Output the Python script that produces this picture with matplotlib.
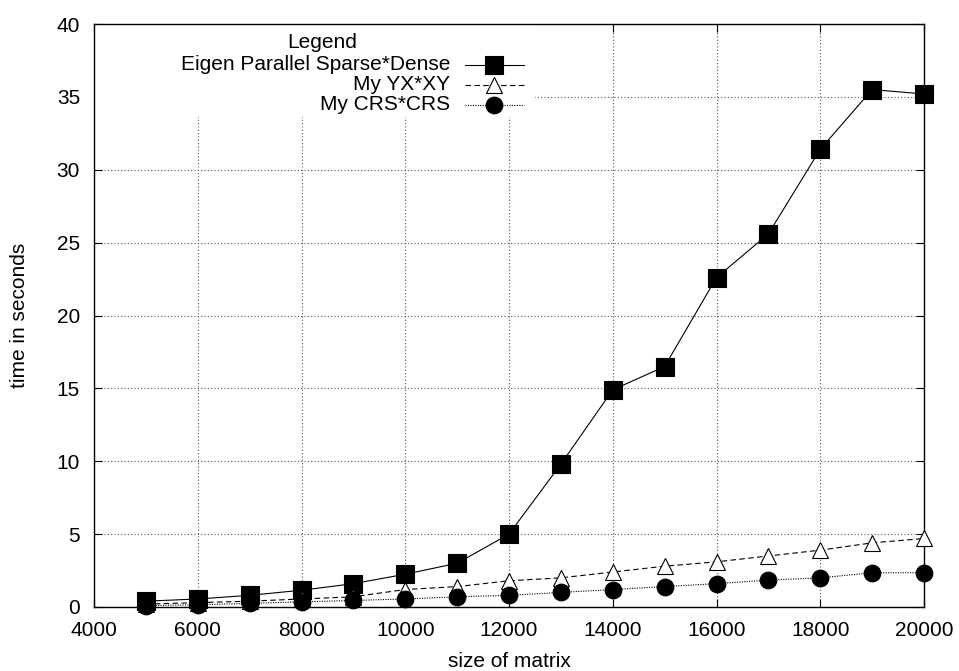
import matplotlib
matplotlib.use("Agg")
import matplotlib.pyplot as plt
from matplotlib.lines import Line2D
from matplotlib.patches import Rectangle

plt.rcParams['font.family'] = ['Liberation Sans', 'DejaVu Sans']

sizes = [5000, 6000, 7000, 8000, 9000, 10000, 11000, 12000, 13000, 14000,
         15000, 16000, 17000, 18000, 19000, 20000]
eigen = [0.4, 0.55, 0.8, 1.15, 1.6, 2.25, 3.0, 5.0, 9.8, 14.9,
         16.5, 22.6, 25.6, 31.4, 35.5, 35.2]
yxxy = [0.2, 0.3, 0.4, 0.55, 0.7, 1.2, 1.4, 1.8, 2.0, 2.4,
        2.8, 3.1, 3.5, 3.9, 4.4, 4.7]
crs = [0.1, 0.15, 0.25, 0.35, 0.45, 0.55, 0.7, 0.8, 1.0, 1.2,
       1.4, 1.6, 1.85, 2.0, 2.35, 2.35]

labels = ["Eigen Parallel Sparse*Dense", "My YX*XY", "My CRS*CRS"]
x_ticks = list(range(4000, 20001, 2000))
y_ticks = list(range(0, 41, 5))

FS = 15
L, R, T, B = 94, 924, 24, 607

fig = plt.figure(figsize=(9.59, 6.71), dpi=100)
ax = fig.add_axes([L/959, 1-B/671, (R-L)/959, (B-T)/671])

styles = [
    dict(linestyle='-', marker='s', markersize=12.5, markerfacecolor='black', markeredgecolor='black', markeredgewidth=0.8),
    dict(linestyle=(0, (5, 3)), marker='^', markersize=12, markerfacecolor='white', markeredgecolor='black', markeredgewidth=0.8),
    dict(linestyle=(0, (1, 1.2)), marker='o', markersize=12, markerfacecolor='black', markeredgecolor='black', markeredgewidth=0.8),
]
for ys, st in zip([eigen, yxxy, crs], styles):
    ax.plot(sizes, ys, color='black', linewidth=0.8, clip_on=False, zorder=3, **st)

ax.set_xlim(4000, 20000)
ax.set_ylim(0, 40)
ax.set_xticks(x_ticks)
ax.set_yticks(y_ticks)
ax.tick_params(direction='in', top=True, right=True, length=6, width=0.8, labelsize=FS)
ax.tick_params(axis='x', pad=10)
ax.tick_params(axis='y', pad=10)
ax.grid(True, color='#555555', linestyle=(0, (1, 2)), linewidth=0.8)
ax.set_axisbelow(True)
for sp in ax.spines.values():
    sp.set_linewidth(1.0)

ax.set_xlabel("size of matrix", fontsize=FS, labelpad=9)
ax.set_ylabel("time in seconds", fontsize=FS, labelpad=20)

# legend (manual, gnuplot style: right-aligned text then sample)
def ax_xy(px, py):
    return ((px - L) / (R - L), (B - py) / (B - T))

x0, y0 = ax_xy(L + 1, 117)
x1, y1 = ax_xy(535, T + 1)
ax.add_patch(Rectangle((x0, y0), x1 - x0, y1 - y0, transform=ax.transAxes,
                       facecolor='white', edgecolor='none', zorder=2))
tx, ty = ax_xy(322, 43)
ax.text(tx, ty, "Legend", transform=ax.transAxes, ha='center', va='center', fontsize=FS, zorder=4)
rows_py = [65, 85, 105]
for lab, st, py in zip(labels, styles, rows_py):
    lx, ly = ax_xy(450, py)
    ax.text(lx, ly, lab, transform=ax.transAxes, ha='right', va='center', fontsize=FS, zorder=4)
    sx0, _ = ax_xy(465, py)
    sx1, _ = ax_xy(524, py)
    mx, _ = ax_xy(494, py)
    ax.add_line(Line2D([sx0, sx1], [ly, ly], transform=ax.transAxes, color='black',
                       linewidth=0.8, linestyle=st['linestyle'], zorder=4))
    ax.add_line(Line2D([mx], [ly], transform=ax.transAxes, color='black', linestyle='none',
                       marker=st['marker'], markersize=st['markersize'],
                       markerfacecolor=st['markerfacecolor'], markeredgecolor=st['markeredgecolor'],
                       markeredgewidth=st['markeredgewidth'], zorder=5))

fig.savefig("out.png", dpi=100)
